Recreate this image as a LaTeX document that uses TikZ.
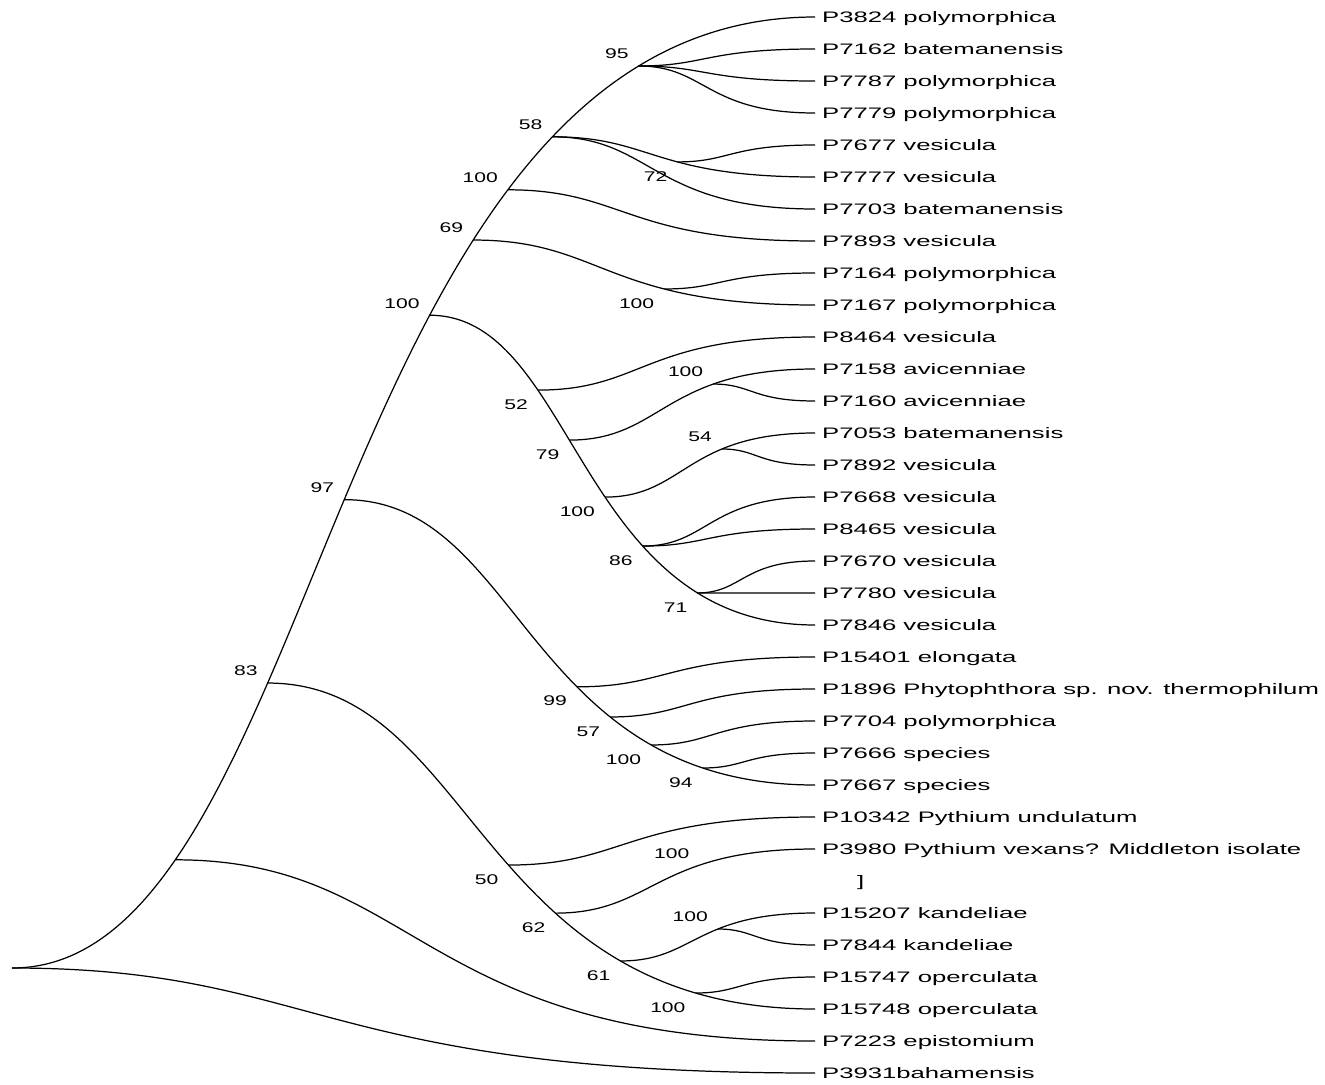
\documentclass[tikz,border=0pt]{standalone}
\usepackage{fontspec}
\setmainfont{Liberation Sans}[FakeStretch=1.69]
\newfontfamily\bsfont{Liberation Sans}[FakeStretch=1.5]
\usetikzlibrary{calc}

\tikzset{
  sig/.style={to path={let \p1=(\tikztostart), \p2=(\tikztotarget) in
    .. controls ({\x1+#1*(\x2-\x1)},\y1) and ({\x1+#1*(\x2-\x1)},\y2) .. (\tikztotarget) \tikztonodes}},
  sig/.default=0.38,
  leaf/.style={anchor=west,inner xsep=0.13cm,inner ysep=0pt,text height=0.22cm,text depth=0pt},
  bsup/.style={anchor=south east,inner sep=0pt,text height=0.2cm,text depth=0pt,xshift=-0.19cm,yshift=0.13cm,
    font=\bsfont\fontsize{8}{10}\selectfont},
  bsdn/.style={anchor=north east,inner sep=0pt,text height=0.2cm,text depth=0pt,xshift=-0.19cm,yshift=-0.17cm,
    font=\bsfont\fontsize{8}{10}\selectfont},
}

\begin{document}
\begin{tikzpicture}[x=0.02cm,y=0.02cm,line width=0.7pt,font=\fontsize{8.65}{10}\selectfont]
\useasboundingbox (0,0) rectangle (1325,-1085);
% taxa
\foreach \txt [count=\i from 0] in {P3824 polymorphica, P7162 batemanensis, P7787 polymorphica,
  P7779 polymorphica, P7677 vesicula, P7777 vesicula, P7703 batemanensis, P7893 vesicula,
  P7164 polymorphica, P7167 polymorphica, P8464 vesicula, P7158 avicenniae, P7160 avicenniae,
  P7053 batemanensis, P7892 vesicula, P7668 vesicula, P8465 vesicula, P7670 vesicula,
  P7780 vesicula, P7846 vesicula, P15401 elongata, P1896 Phytophthora sp. nov. thermophilum,
  P7704 polymorphica, P7666 species, P7667 species, P10342 Pythium undulatum,
  P3980 Pythium vexans? Middleton isolate, {\hspace*{0.7cm}]}, P15207 kandeliae,
  P7844 kandeliae, P15747 operculata, P15748 operculata, P7223 epistomium, P3931bahamensis}
  \node[leaf] (l\i) at (815,{-17-32*\i}) {\txt};
\coordinate (r) at (12,-968);
% backbone
\draw (r) to[sig=0.39] coordinate[pos=0.21] (n1) coordinate[pos=0.363] (n83)
  coordinate[pos=0.495] (n97) coordinate[pos=0.627] (n100a) coordinate[pos=0.6855] (n69)
  coordinate[pos=0.728] (n100b) coordinate[pos=0.778] (n58) coordinate[pos=0.8625] (n95) (l0.west);
\draw (r) to[sig] (l33.west);
\draw (n1) to[sig] (l32.west);
% upper clades
\draw (n95) to[sig] (l1.west);
\draw (n95) to[sig] (l2.west);
\draw (n95) to[sig] (l3.west);
\draw (n58) to[sig] coordinate[pos=0.584] (n72) (l5.west);
\draw (n72) to[sig] (l4.west);
\draw (n58) to[sig] (l6.west);
\draw (n100b) to[sig] (l7.west);
\draw (n69) to[sig] coordinate[pos=0.6765] (n100c) (l9.west);
\draw (n100c) to[sig] (l8.west);
% vesicula group
\draw (n100a) to[sig] coordinate[pos=0.32] (n52) coordinate[pos=0.435] (n79)
  coordinate[pos=0.5583] (n100e) coordinate[pos=0.67] (n86) coordinate[pos=0.8005] (n71) (l19.west);
\draw (n52) to[sig] (l10.west);
\draw (n79) to[sig] coordinate[pos=0.7035] (n100d) (l11.west);
\draw (n100d) to[sig] (l12.west);
\draw (n100e) to[sig] coordinate[pos=0.674] (n54) (l13.west);
\draw (n54) to[sig] (l14.west);
\draw (n86) to[sig] (l15.west);
\draw (n86) to[sig] (l16.west);
\draw (n71) to[sig] (l17.west);
\draw (n71) to[sig] (l18.west);
% elongata group
\draw (n97) to[sig] coordinate[pos=0.6055] (n99) coordinate[pos=0.6825] (n57)
  coordinate[pos=0.7645] (n100f) coordinate[pos=0.8515] (n94) (l24.west);
\draw (n99) to[sig] (l20.west);
\draw (n57) to[sig] (l21.west);
\draw (n100f) to[sig] (l22.west);
\draw (n94) to[sig] (l23.west);
% pythium and others
\draw (n83) to[sig] coordinate[pos=0.539] (n50) coordinate[pos=0.641] (n62)
  coordinate[pos=0.758] (n61) coordinate[pos=0.866] (n100h) (l31.west);
\draw (n50) to[sig] (l25.west);
\draw (n62) to[sig] coordinate[pos=0.672] (n100x) (l26.west);
\draw (n61) to[sig] coordinate[pos=0.613] (n100g) (l28.west);
\draw (n100g) to[sig] (l29.west);
\draw (n100h) to[sig] (l30.west);
% bootstrap values
\foreach \n/\v in {n95/95, n58/58, n100b/100, n69/69, n100a/100, n97/97, n83/83,
  n100d/100, n54/54, n100g/100, n100x/100}
  \node[bsup] (bs-\n) at (\n) {\v};
\foreach \n/\v in {n72/72, n100c/100, n52/52, n79/79, n100e/100, n86/86, n71/71,
  n99/99, n57/57, n100f/100, n94/94, n50/50, n62/62, n61/61, n100h/100}
  \node[bsdn] (bs-\n) at (\n) {\v};
\end{tikzpicture}
\end{document}
